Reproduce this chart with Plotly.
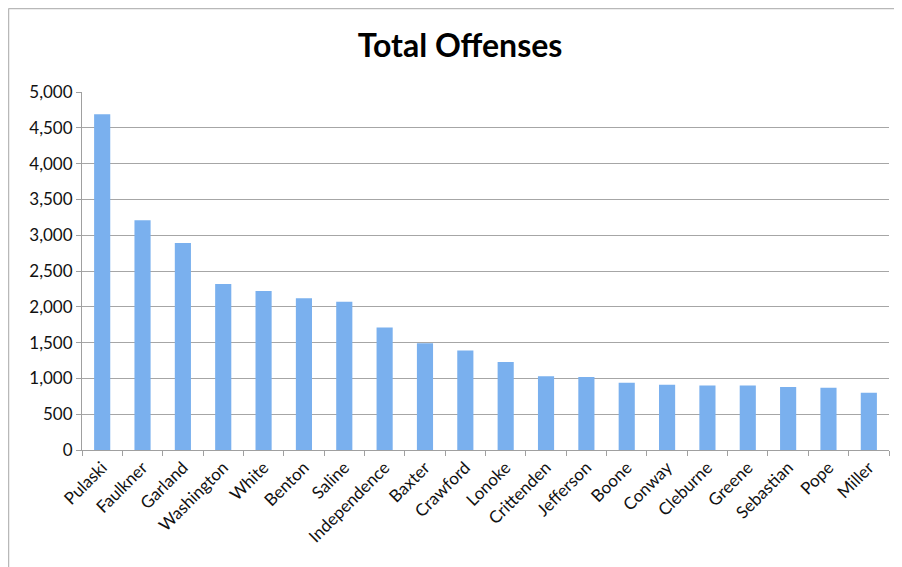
import plotly.graph_objects as go

counties = ["Pulaski", "Faulkner", "Garland", "Washington", "White", "Benton", "Saline",
            "Independence", "Baxter", "Crawford", "Lonoke", "Crittenden", "Jefferson",
            "Boone", "Conway", "Cleburne", "Greene", "Sebastian", "Pope", "Miller"]
offenses = [4690, 3210, 2890, 2320, 2220, 2120, 2070, 1710, 1490, 1390, 1230, 1030, 1020,
            940, 910, 900, 900, 880, 870, 800]
y_ticks = [0, 500, 1000, 1500, 2000, 2500, 3000, 3500, 4000, 4500, 5000]

font_family = "Lato, 'Open Sans', sans-serif"

fig = go.Figure(go.Bar(
    x=counties, y=offenses,
    marker=dict(color="#7ab0ee", line=dict(width=0)),
))

# the page body has an 8px default margin, so the figure is sized to fit the window
OFF = 8
W, H = 902 - OFF, 567 - OFF
ml, mt = 82 - OFF, 92 - OFF
pw, ph = 807, 358
mr = W - ml - pw
mb = H - mt - ph


def px_x(p):
    return (p - OFF - ml) / pw


def px_y(p):
    return (H - mb - (p - OFF)) / ph


frame_color = "#b8b8b8"
fig.update_layout(
    width=W, height=H,
    margin=dict(l=ml, r=mr, t=mt, b=mb, pad=0),
    paper_bgcolor="white", plot_bgcolor="white",
    bargap=0.6,
    showlegend=False,
    title=dict(text="<b>Total Offenses</b>", x=px_x(460), xref="paper", xanchor="center",
               y=1 - (46 - OFF) / H, yanchor="middle",
               font=dict(family=font_family, size=32, color="black")),
    font=dict(family=font_family, size=17, color="#111111"),
    xaxis=dict(
        tickangle=-45, showline=True, linecolor="#a0a0a0", linewidth=1,
        ticks="outside", ticklen=5, tickcolor="#a0a0a0", tickson="boundaries",
        showgrid=False, tickfont=dict(size=17),
    ),
    yaxis=dict(
        range=[0, 5000], tickvals=y_ticks, tickformat=",",
        showgrid=True, gridcolor="#a6a6a6", gridwidth=1,
        showline=True, linecolor="#a0a0a0", linewidth=1,
        ticks="outside", ticklen=5, tickcolor="#a0a0a0",
        zeroline=False, tickfont=dict(size=17),
    ),
    shapes=[
        dict(type="line", xref="paper", yref="paper",
             x0=px_x(8.5), x1=px_x(8.5), y0=px_y(570), y1=px_y(8.5),
             line=dict(color=frame_color, width=1.5)),
        dict(type="line", xref="paper", yref="paper",
             x0=px_x(8.5), x1=px_x(905), y0=px_y(8.5), y1=px_y(8.5),
             line=dict(color=frame_color, width=1.5)),
    ],
)

fig.write_html("out.html")
